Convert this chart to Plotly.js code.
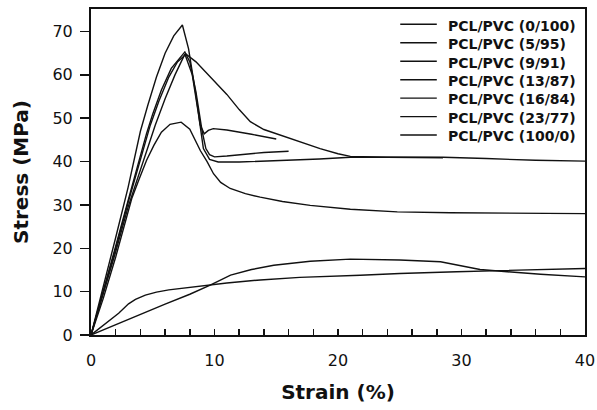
<!DOCTYPE html>
<html><head><meta charset="utf-8">
<script src="https://cdn.plot.ly/plotly-3.0.1.min.js"></script>
<style>html,body{margin:0;padding:0;background:#fff;}#chart{width:597px;height:410px;}</style>
</head><body><div id="chart"></div>
<script>
const seriesNames = ['PCL/PVC (0/100)','PCL/PVC (5/95)','PCL/PVC (9/91)','PCL/PVC (13/87)','PCL/PVC (16/84)','PCL/PVC (23/77)','PCL/PVC (100/0)'];

const strain_0_100 = [0,1,2,3,4,4.5,5,5.7,6.5,7.6,8.0,8.5,9.0,9.3,9.6,10.0,11,12,14,16];
const stress_0_100 = [0,10,20.5,31,41.5,46.5,51,56.5,61.5,65.3,63,56,47,43,41.6,41.1,41.3,41.6,42.1,42.4];

const strain_5_95 = [0,1,2,3,4,4.6,5.3,6.0,6.7,7.4,7.9,8.44,8.84,9.17,9.5,9.9,11,13,15.0];
const stress_5_95 = [0,11,22.5,34,47,53,59.5,65,69,71.5,66,56.4,48.5,46.4,47.2,47.6,47.3,46.3,45.2];

const strain_9_91 = [0,1,2,3,4,4.8,5.5,6.3,7.0,7.7,8.5,9.9,11,12,12.9,14,15.3,17,18.55,20,21,24,28.5];
const stress_9_91 = [0,9.8,20,30.5,40.5,48.4,54,59.5,63,64.8,63,58.7,55.5,52,49.2,47.4,46.1,44.4,43.0,41.8,41.2,41.0,40.9];

const strain_13_87 = [0,1,2,3,4.26,5.2,6,6.8,7.6,8.2,8.7,9.1,9.6,10.3,12,14,18.5,21,28.5,32,36,40];
const stress_13_87 = [0,9.5,19.2,29.5,40.3,48.4,54.5,60,64.8,60,51,43,40.5,39.9,39.9,40.1,40.6,41.0,41.0,40.7,40.3,40.1];

const strain_16_84 = [0,1,2,2.7,3.3,3.9,4.5,5.1,5.7,6.4,7.3,8.0,8.86,9.4,9.92,10.5,11.27,12.5,13.7,15.5,17.75,21,24.8,29.1,35,40];
const stress_16_84 = [0,8.5,18,25,31.5,36,40.3,43.8,46.8,48.6,49.1,47.5,42.5,40,37.2,35.2,33.8,32.6,31.8,30.8,29.9,29.0,28.4,28.2,28.1,28.0];

const strain_23_77 = [0,2,4,6,8,9.65,11.3,13,14.8,17.75,21,25,28.3,29.6,31.5,33.7,36.4,40];
const stress_23_77 = [0,2.4,4.8,7.1,9.4,11.5,13.8,15.1,16.1,17.0,17.5,17.3,16.9,16.1,15.1,14.6,14.0,13.4];

const strain_100_0 = [0,1.16,2.24,3.04,3.6,4.4,5.3,6.3,9.0,11,13.7,16.9,21.8,25,29.6,32.3,40];
const stress_100_0 = [0,2.7,5.0,7.2,8.2,9.2,9.9,10.4,11.3,12.0,12.7,13.3,13.8,14.2,14.6,14.8,15.35];

const xs = [strain_0_100, strain_5_95, strain_9_91, strain_13_87, strain_16_84, strain_23_77, strain_100_0];
const ys = [stress_0_100, stress_5_95, stress_9_91, stress_13_87, stress_16_84, stress_23_77, stress_100_0];

const FONT = 'DejaVu Sans, Verdana, sans-serif';
const INK = '#111';

const traces = seriesNames.map((n, i) => ({
  type: 'scatter', mode: 'lines', name: n, x: xs[i], y: ys[i],
  line: {color: INK, width: 1.4}, showlegend: false, hoverinfo: 'skip'
}));

// hand-built legend (tight row spacing as in the original figure)
const legX0 = 0.626, legX1 = 0.700, legTextX = 0.718, legY0 = 0.949, legStep = 0.0566;
const shapes = [], annotations = [];
seriesNames.forEach((n, i) => {
  const yy = legY0 - i * legStep;
  shapes.push({type: 'line', xref: 'paper', yref: 'paper', x0: legX0, x1: legX1, y0: yy + 0.004, y1: yy + 0.004,
    line: {color: INK, width: 1.4}});
  annotations.push({xref: 'paper', yref: 'paper', x: legTextX, y: yy, xanchor: 'left', yanchor: 'middle',
    text: n, showarrow: false, font: {family: FONT, size: 14, weight: 'bold', color: INK}});
});

const layout = {
  width: 597, height: 410,
  margin: {l: 91, r: 12, t: 9, b: 75},
  paper_bgcolor: '#fff', plot_bgcolor: '#fff',
  font: {family: FONT, color: INK},
  showlegend: false,
  xaxis: {
    range: [0, 40], dtick: 10, tick0: 0, ticks: 'inside', ticklen: 6, tickwidth: 1.5, tickcolor: INK,
    minor: {dtick: 2, ticks: 'inside', ticklen: 6, tickwidth: 1.5, tickcolor: INK, showgrid: false},
    showline: true, linewidth: 2, linecolor: INK, mirror: true, showgrid: false, zeroline: false,
    tickfont: {family: FONT, size: 16, color: INK}, ticklabelstandoff: 10,
    title: {text: 'Strain (%)', font: {family: FONT, size: 20, weight: 'bold', color: INK}, standoff: 16}
  },
  yaxis: {
    range: [0, 75.2], dtick: 10, tick0: 0, ticks: 'outside', ticklen: 9, tickwidth: 1.5, tickcolor: INK,
    showline: true, linewidth: 2, linecolor: INK, mirror: true, showgrid: false, zeroline: false,
    tickfont: {family: FONT, size: 16, color: INK}, ticklabelstandoff: 4,
    title: {text: 'Stress (MPa)', font: {family: FONT, size: 20, weight: 'bold', color: INK}, standoff: 18}
  },
  shapes: shapes,
  annotations: annotations
};

Plotly.newPlot('chart', traces, layout, {staticPlot: true, displayModeBar: false});
</script>
</body></html>
